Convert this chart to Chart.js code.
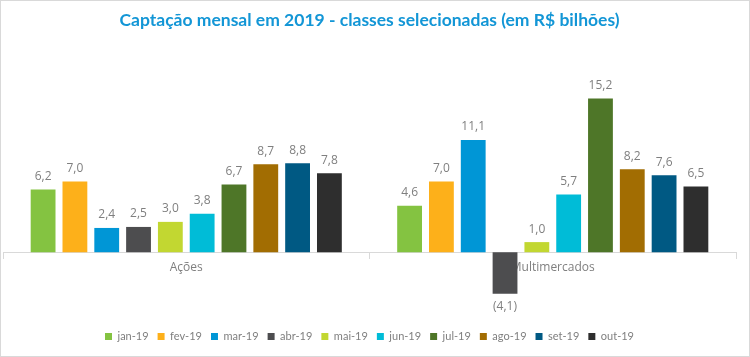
<!DOCTYPE html>
<html>
<head>
<meta charset="utf-8">
<script src="https://cdn.jsdelivr.net/npm/chart.js@4"></script>
<style>
html,body{margin:0;padding:0;background:#fff;}
#wrap{width:750px;height:357px;position:relative;}
</style>
</head>
<body>
<div id="wrap"><canvas id="c" width="750" height="357"></canvas></div>
<script>
const categories = ["Ações", "Multimercados"];
const months = ["jan-19","fev-19","mar-19","abr-19","mai-19","jun-19","jul-19","ago-19","set-19","out-19"];
const jan19 = [6.2, 4.6];
const fev19 = [7.0, 7.0];
const mar19 = [2.4, 11.1];
const abr19 = [2.5, -4.1];
const mai19 = [3.0, 1.0];
const jun19 = [3.8, 5.7];
const jul19 = [6.7, 15.2];
const ago19 = [8.7, 8.2];
const set19 = [8.8, 7.6];
const out19 = [7.8, 6.5];
const seriesValues = [jan19, fev19, mar19, abr19, mai19, jun19, jul19, ago19, set19, out19];
const colors = ["#84C341","#FDB01A","#0096D6","#4D4D4F","#C2D731","#00BCD7","#4E7628","#A26D02","#005983","#2E2E2E"];

function fmt(v){
  const s = Math.abs(v).toFixed(1).replace('.', ',');
  return v < 0 ? '(' + s + ')' : s;
}

const labelPlugin = {
  id: 'valueLabels',
  afterDatasetsDraw(chart){
    const ctx = chart.ctx;
    ctx.save();
    ctx.font = '12px "Open Sans", "Noto Sans", sans-serif';
    ctx.fillStyle = '#7F7F7F';
    ctx.textAlign = 'center';
    ctx.textBaseline = 'middle';
    chart.data.datasets.forEach((ds, i) => {
      const meta = chart.getDatasetMeta(i);
      meta.data.forEach((bar, j) => {
        const v = ds.data[j];
        const y = v >= 0 ? bar.y - 13 : bar.y + 13;
        ctx.fillText(fmt(v), bar.x, y);
      });
    });
    ctx.restore();
  }
};

const borderPlugin = {
  id: 'outerBorder',
  afterDraw(chart){
    const ctx = chart.ctx;
    ctx.save();
    ctx.strokeStyle = '#D9D9D9';
    ctx.lineWidth = 1;
    ctx.strokeRect(0.5, 0.5, chart.width - 1, chart.height - 1);
    ctx.restore();
  }
};

new Chart(document.getElementById('c'), {
  type: 'bar',
  data: {
    labels: categories,
    datasets: months.map((m, i) => ({
      label: m,
      data: seriesValues[i],
      backgroundColor: colors[i],
      borderWidth: 0,
      categoryPercentage: 0.868,
      barPercentage: 0.78
    }))
  },
  options: {
    responsive: false,
    animation: false,
    devicePixelRatio: 1,
    layout: { padding: { left: 3, right: 14, top: 0, bottom: 5 } },
    plugins: {
      title: {
        display: true,
        text: 'Captação mensal em 2019 - classes selecionadas (em R$ bilhões)',
        color: '#1396D6',
        font: { family: 'Lato, "Open Sans", sans-serif', size: 17.5, weight: 'bold' },
        padding: { top: 10, bottom: 50 }
      },
      legend: {
        position: 'bottom',
        labels: {
          boxWidth: 7,
          boxHeight: 7,
          padding: 9,
          color: '#7F7F7F',
          font: { family: 'Lato, "Open Sans", sans-serif', size: 11 }
        }
      },
      tooltip: { enabled: false }
    },
    scales: {
      x: {
        position: { y: 0 },
        grid: { offset: true, drawOnChartArea: false, tickLength: 6, color: '#D9D9D9' },
        border: { display: true, color: '#D9D9D9' },
        ticks: { color: '#7F7F7F', font: { family: '"Open Sans", "Noto Sans", sans-serif', size: 12 }, padding: 2 }
      },
      y: {
        display: false,
        min: -6.9,
        max: 16.93
      }
    }
  },
  plugins: [labelPlugin, borderPlugin]
});
</script>
</body>
</html>
